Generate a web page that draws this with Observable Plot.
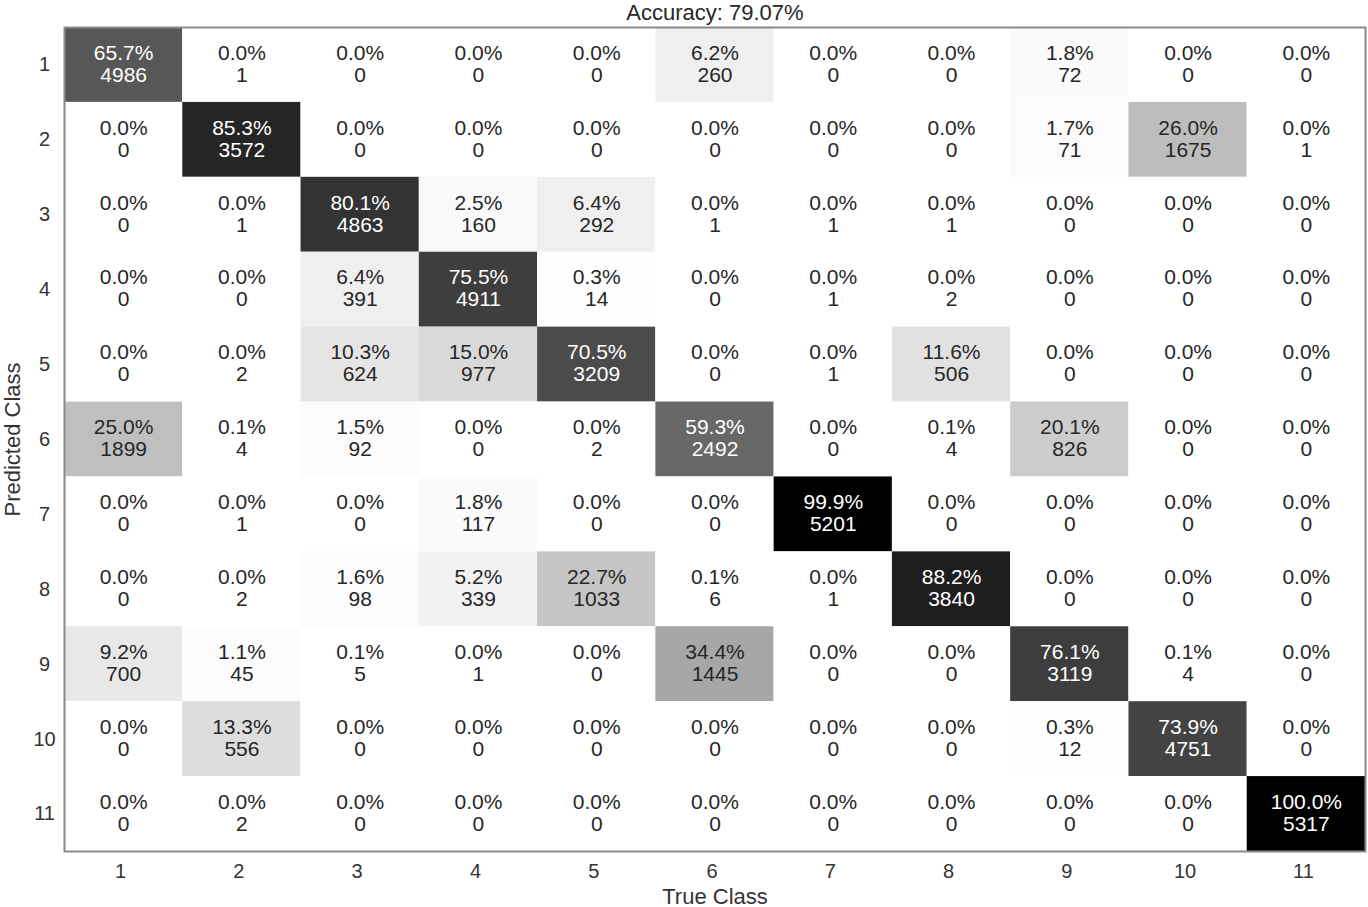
<!DOCTYPE html>
<html>
<head>
<meta charset="utf-8">
<script src="https://cdn.jsdelivr.net/npm/d3@7"></script>
<script src="https://cdn.jsdelivr.net/npm/@observablehq/plot@0.6"></script>
<style>
  html, body { margin: 0; padding: 0; background: #fff; }
  #chart svg { display: block; }
</style>
</head>
<body>
<div id="chart"></div>
<script>
const classes = ["1","2","3","4","5","6","7","8","9","10","11"];
const accuracyLabel = "Accuracy: 79.07%";
const xTitle = "True Class";
const yTitle = "Predicted Class";

// rows = predicted class, columns = true class
const percents = [
  [65.7, 0.0, 0.0, 0.0, 0.0, 6.2, 0.0, 0.0, 1.8, 0.0, 0.0],
  [0.0, 85.3, 0.0, 0.0, 0.0, 0.0, 0.0, 0.0, 1.7, 26.0, 0.0],
  [0.0, 0.0, 80.1, 2.5, 6.4, 0.0, 0.0, 0.0, 0.0, 0.0, 0.0],
  [0.0, 0.0, 6.4, 75.5, 0.3, 0.0, 0.0, 0.0, 0.0, 0.0, 0.0],
  [0.0, 0.0, 10.3, 15.0, 70.5, 0.0, 0.0, 11.6, 0.0, 0.0, 0.0],
  [25.0, 0.1, 1.5, 0.0, 0.0, 59.3, 0.0, 0.1, 20.1, 0.0, 0.0],
  [0.0, 0.0, 0.0, 1.8, 0.0, 0.0, 99.9, 0.0, 0.0, 0.0, 0.0],
  [0.0, 0.0, 1.6, 5.2, 22.7, 0.1, 0.0, 88.2, 0.0, 0.0, 0.0],
  [9.2, 1.1, 0.1, 0.0, 0.0, 34.4, 0.0, 0.0, 76.1, 0.1, 0.0],
  [0.0, 13.3, 0.0, 0.0, 0.0, 0.0, 0.0, 0.0, 0.3, 73.9, 0.0],
  [0.0, 0.0, 0.0, 0.0, 0.0, 0.0, 0.0, 0.0, 0.0, 0.0, 100.0]
];
const counts = [
  [4986, 1, 0, 0, 0, 260, 0, 0, 72, 0, 0],
  [0, 3572, 0, 0, 0, 0, 0, 0, 71, 1675, 1],
  [0, 1, 4863, 160, 292, 1, 1, 1, 0, 0, 0],
  [0, 0, 391, 4911, 14, 0, 1, 2, 0, 0, 0],
  [0, 2, 624, 977, 3209, 0, 1, 506, 0, 0, 0],
  [1899, 4, 92, 0, 2, 2492, 0, 4, 826, 0, 0],
  [0, 1, 0, 117, 0, 0, 5201, 0, 0, 0, 0],
  [0, 2, 98, 339, 1033, 6, 1, 3840, 0, 0, 0],
  [700, 45, 5, 1, 0, 1445, 0, 0, 3119, 4, 0],
  [0, 556, 0, 0, 0, 0, 0, 0, 12, 4751, 0],
  [0, 2, 0, 0, 0, 0, 0, 0, 0, 0, 5317]
];

const cells = [];
classes.forEach((pred, i) => {
  classes.forEach((tru, j) => {
    cells.push({pred, tru, pct: percents[i][j], count: counts[i][j]});
  });
});

const textColor = d => d.pct > 50 ? "#ffffff" : "#262626";
const FONT = "Arial, 'Liberation Sans', Helvetica, sans-serif";

const chart = Plot.plot({
  width: 1368,
  height: 907,
  marginLeft: 64,
  marginRight: 3,
  marginTop: 27,
  marginBottom: 56,
  style: {fontFamily: FONT, fontSize: "20px", color: "#333", background: "#fff", overflow: "visible"},
  x: {domain: classes, padding: 0, round: false, label: null},
  y: {domain: classes, padding: 0, round: false, label: null},
  color: {type: "linear", domain: [0, 100], range: ["#ffffff", "#000000"]},
  marks: [
    Plot.cell(cells, {x: "tru", y: "pred", fill: "pct", inset: 0}),
    Plot.text(cells, {x: "tru", y: "pred", text: d => d.pct.toFixed(1) + "%", dy: -12, fill: textColor, fontSize: 21}),
    Plot.text(cells, {x: "tru", y: "pred", text: d => String(d.count), dy: 10, fill: textColor, fontSize: 21}),
    Plot.frame({stroke: "#8a8a8a", strokeWidth: 2}),
    Plot.axisX({tickSize: 0, tickPadding: 12, dx: -3, fontSize: 20, label: null}),
    Plot.axisY({tickSize: 0, tickPadding: 20, textAnchor: "middle", fontSize: 20, label: null}),
    Plot.text([xTitle], {frameAnchor: "bottom", lineAnchor: "middle", dy: 45, text: d => d, fontSize: 22, fill: "#333"}),
    Plot.text([yTitle], {frameAnchor: "left", textAnchor: "middle", lineAnchor: "middle", dx: -52, rotate: -90, text: d => d, fontSize: 22, fill: "#333"}),
    Plot.text([accuracyLabel], {frameAnchor: "top", lineAnchor: "middle", dy: -15, text: d => d, fontSize: 22, fill: "#262626"})
  ]
});
document.getElementById("chart").appendChild(chart);
</script>
</body>
</html>
